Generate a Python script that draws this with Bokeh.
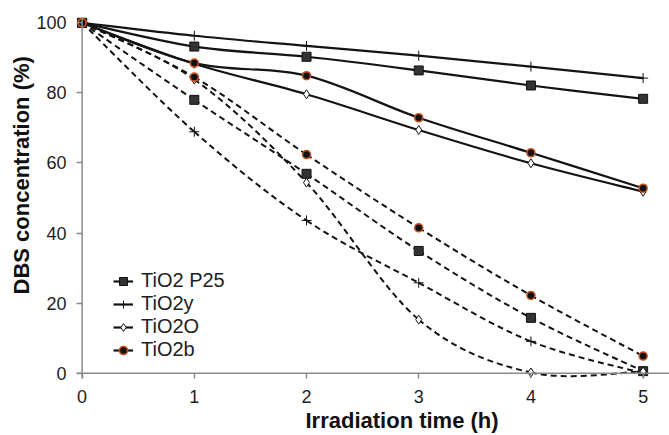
from bokeh.plotting import figure
from bokeh.models import Range1d, Span, Title, Legend, LegendItem, FixedTicker
from bokeh.embed import file_html
from bokeh.resources import INLINE

# ---- data ----
hours = [0, 1, 2, 3, 4, 5]
x_ticks = [0, 1, 2, 3, 4, 5]
y_ticks = [0, 20, 40, 60, 80, 100]
series_names = ["TiO2 P25", "TiO2y", "TiO2O", "TiO2b"]

# solid curves
p25_solid = [100, 93.2, 90.3, 86.4, 82.1, 78.3]
y_solid = [100, 96.3, 93.4, 90.6, 87.5, 84.2]
o_solid = [100, 88.3, 79.6, 69.4, 59.9, 51.8]
b_solid = [100, 88.5, 84.9, 72.9, 62.9, 52.8]
# dashed curves
p25_dashed = [100, 78.0, 56.9, 34.9, 15.8, 0.6]
y_dashed = [100, 68.9, 43.6, 25.8, 9.1, 0.0]
o_dashed = [100, 83.8, 54.4, 15.3, 0.2, 0.5]
b_dashed = [100, 84.5, 62.4, 41.5, 22.2, 4.9]

FONT = "Liberation Sans"
LINE = "#141414"
AXIS = "#8a8a8a"

p = figure(width=669, height=435, output_backend="svg", toolbar_location=None,
           x_range=Range1d(-0.05, 5.235), y_range=Range1d(-1.5, 101.5),
           min_border_left=76, min_border_right=0, min_border_top=17,
           min_border_bottom=57)
p.grid.visible = False
p.outline_line_color = None
p.background_fill_color = "white"
p.border_fill_color = "white"

# x axis
xa = p.xaxis[0]
xa.ticker = FixedTicker(ticks=x_ticks)
xa.axis_line_color = None
xa.major_tick_in = 5
xa.major_tick_out = 0
xa.minor_tick_line_color = None
xa.major_tick_line_color = AXIS
xa.major_tick_line_width = 1.5
xa.major_label_text_font = FONT
xa.major_label_text_font_size = "18px"
xa.major_label_text_color = "#1e1e1e"
xa.major_label_standoff = 11

# y axis
ya = p.yaxis[0]
ya.ticker = FixedTicker(ticks=y_ticks)
ya.axis_line_color = None
ya.major_tick_in = 6
ya.major_tick_out = 0
ya.minor_tick_line_color = None
ya.major_tick_line_color = AXIS
ya.major_tick_line_width = 1.5
ya.major_label_text_font = FONT
ya.major_label_text_font_size = "18px"
ya.major_label_text_color = "#1e1e1e"
ya.major_label_standoff = 10

p.add_layout(Span(location=0, dimension="height", line_color=AXIS, line_width=1.5))
p.add_layout(Span(location=0, dimension="width", line_color=AXIS, line_width=1.5))

p.add_layout(Title(text="Irradiation time (h)", align="left", offset=229, standoff=0,
                   text_font=FONT, text_font_size="22px", text_font_style="bold",
                   text_color="#111111"), "below")
p.add_layout(Title(text="DBS concentration (%)", align="left", offset=84, standoff=0,
                   text_font=FONT, text_font_size="22px", text_font_style="bold",
                   text_color="#111111"), "left")


def smooth(xs, ys):
    n = len(xs)
    d = dict(x0=[], y0=[], x1=[], y1=[], cx0=[], cy0=[], cx1=[], cy1=[])
    for i in range(n - 1):
        a = i - 1 if i > 0 else i
        b = i + 2 if i + 2 < n else i + 1
        d["x0"].append(xs[i]); d["y0"].append(ys[i])
        d["x1"].append(xs[i + 1]); d["y1"].append(ys[i + 1])
        d["cx0"].append(xs[i] + (xs[i + 1] - xs[a]) / 6)
        d["cy0"].append(ys[i] + (ys[i + 1] - ys[a]) / 6)
        d["cx1"].append(xs[i + 1] - (xs[b] - xs[i]) / 6)
        d["cy1"].append(ys[i + 1] - (ys[b] - ys[i]) / 6)
    return d


styles = [
    dict(marker="square", size=9, fill_color="#333333", line_color="#111111", line_width=1),
    dict(marker="cross", size=10, fill_color=None, line_color="#111111", line_width=1),
    dict(marker="diamond", size=9, fill_color="white", line_color="#111111", line_width=1),
    dict(marker="circle", size=8, fill_color="#111111", line_color="#c8501e", line_width=1.6),
]
solids = [p25_solid, y_solid, o_solid, b_solid]
dasheds = [p25_dashed, y_dashed, o_dashed, b_dashed]

# lines
for ys in dasheds:
    p.bezier(line_color=LINE, line_width=2, line_dash="6 4", **smooth(hours, ys))
solid_lines = []
for ys in solids:
    solid_lines.append(p.bezier(line_color=LINE, line_width=2.2, **smooth(hours, ys)))

items = []
for name, st, ys_s, ys_d, r_l in zip(series_names, styles, solids, dasheds, solid_lines):
    p.scatter(hours, ys_d, **st)
    r_s = p.scatter(hours, ys_s, **st)
    items.append(LegendItem(label=name, renderers=[r_l, r_s]))

legend = Legend(items=items, location=(37, 17), padding=0, margin=0,
                border_line_color=None, background_fill_alpha=0,
                glyph_width=20, glyph_height=20, label_height=20, spacing=0,
                label_standoff=8, label_text_font=FONT, label_text_font_size="20px",
                label_text_color="#1e1e1e")
p.add_layout(legend)

open("out.html", "w").write(file_html(p, INLINE))
